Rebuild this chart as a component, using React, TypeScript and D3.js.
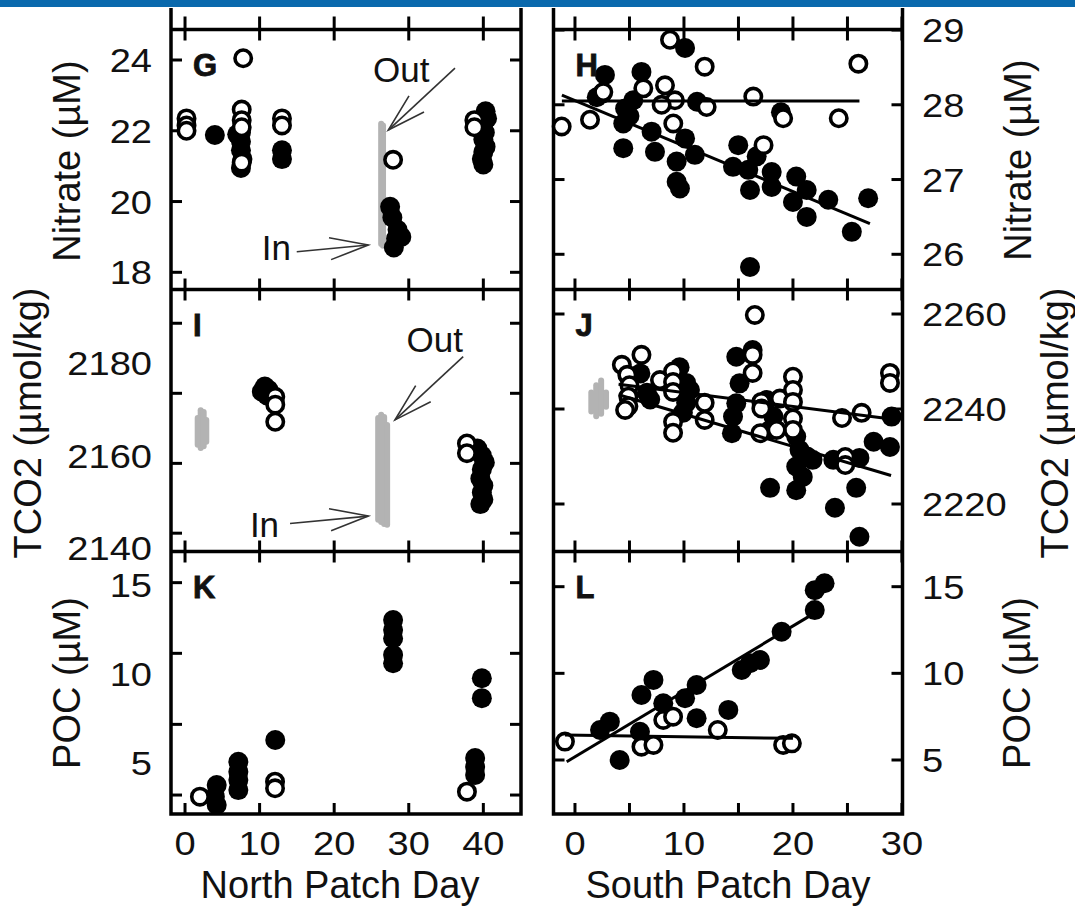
import * as d3 from 'd3';

const FONT = '"Liberation Sans", Arial, Helvetica, sans-serif';

// ---------- axis ticks / labels ----------
const northDayTicks = [0, 10, 20, 30, 40];
const southDayTicks = [0, 5, 10, 15, 20, 25, 30];
const southDayLabels = [0, 10, 20, 30];

const nitrateNorthTicks = [18, 20, 22, 24];
const nitrateSouthTicks = [26, 27, 28, 29];
const tco2NorthTickMarks = [2143.2, 2158.3, 2173.45, 2188.6];
const tco2NorthLabels = [2140, 2160, 2180];
const tco2SouthTicks = [2220, 2240, 2260];
const pocNorthTickMarks = [3.2, 7.17, 11.16, 15.13];
const pocNorthLabels = [5, 10, 15];
const pocSouthTicks = [5, 10, 15];

type Pt = [number, number];
type Strip = [number, number, number]; // day, low, high
type Seg = [number, number, number, number]; // day0, v0, day1, v1

// ---------- G: north nitrate ----------
const nitrateNorthIn: Pt[] = [
  [4.0, 21.88], [7.0, 21.9], [7.5, 21.95], [7.5, 21.7], [7.5, 21.45], [7.7, 21.2], [7.5, 20.95],
  [13.0, 21.45], [13.0, 21.2],
  [27.5, 19.85], [27.8, 19.55], [28.5, 19.2], [29.0, 19.0], [28.3, 18.95], [28.0, 18.7],
  [40.3, 22.55], [40.5, 22.35], [40.0, 22.2], [40.2, 21.95], [40.0, 21.75], [40.3, 21.55],
  [40.0, 21.4], [39.8, 21.2], [40.0, 21.05],
];
const nitrateNorthOut: Pt[] = [
  [0.2, 22.35], [0.2, 22.15], [0.2, 22.0], [7.8, 24.05], [7.6, 22.6], [7.6, 22.3], [7.6, 22.1],
  [7.6, 21.1], [13.0, 22.35], [13.0, 22.15], [27.9, 21.18], [38.8, 22.3], [38.8, 22.1],
];
const nitrateNorthUnderway: Strip[] = [[26.3, 18.8, 22.2], [26.55, 18.75, 22.15]];

// ---------- H: south nitrate ----------
const nitrateSouthIn: Pt[] = [
  [10.1, 28.76], [2.75, 28.4], [6.1, 28.44], [2.0, 28.1], [2.5, 28.15], [5.35, 28.06], [4.6, 27.95],
  [5.0, 27.85], [4.43, 27.75], [4.43, 27.42], [7.03, 27.64], [7.34, 27.37], [11.2, 28.04],
  [10.1, 27.55], [11.0, 27.33], [9.33, 27.24], [9.33, 26.97], [9.63, 26.88], [14.98, 27.46],
  [14.5, 27.17], [15.9, 27.13], [16.67, 27.31], [18.05, 27.1], [16.06, 26.86], [18.05, 26.9],
  [20.3, 27.04], [21.26, 26.86], [20.0, 26.7], [21.26, 26.5], [23.24, 26.73], [26.9, 26.75],
  [25.4, 26.3], [16.06, 25.83], [18.9, 27.9],
];
const nitrateSouthOut: Pt[] = [
  [8.72, 28.87], [11.9, 28.51], [26.0, 28.55], [2.6, 28.17], [6.27, 28.22], [8.26, 28.26],
  [9.17, 28.06], [7.95, 28.0], [12.08, 27.97], [16.36, 28.11], [-1.22, 27.71], [1.38, 27.8],
  [9.02, 27.75], [19.1, 27.82], [24.2, 27.82], [17.3, 27.46],
];
const nitrateSouthFits: Seg[] = [[-1.2, 28.05, 26.1, 28.05], [-1.2, 28.13, 27.06, 26.41]];

// ---------- I: north TCO2 ----------
const tco2NorthIn: Pt[] = [
  [10.7, 2174.9], [10.3, 2173.8], [11.2, 2174.2], [11.0, 2173.0],
  [39.2, 2161.5], [39.8, 2160.0], [40.2, 2158.5], [39.8, 2157.0], [39.6, 2155.0],
  [40.0, 2153.5], [39.8, 2152.0], [40.0, 2150.5], [39.6, 2149.5],
];
const tco2NorthOut: Pt[] = [
  [12.1, 2172.7], [12.1, 2171.0], [12.1, 2167.3], [37.8, 2162.6], [37.8, 2160.5],
];
const tco2NorthUnderway: Strip[] = [
  [1.7, 2162.3, 2168.1], [2.1, 2161.6, 2169.8], [2.5, 2162.0, 2169.4], [2.85, 2163.0, 2167.7],
  [25.9, 2146.1, 2168.1], [26.3, 2145.6, 2168.8], [26.7, 2145.2, 2168.3], [27.1, 2145.0, 2166.6],
];

// ---------- J: south TCO2 ----------
const tco2SouthIn: Pt[] = [
  [14.8, 2251.0], [16.3, 2252.4], [15.1, 2245.4], [14.8, 2241.2], [14.5, 2238.4], [14.4, 2234.9],
  [6.6, 2243.4], [6.9, 2242.0], [9.6, 2248.8], [10.2, 2245.5], [10.2, 2241.3], [9.9, 2239.2],
  [6.0, 2247.5], [10.55, 2244.0],
  [17.6, 2241.9], [18.2, 2238.4], [17.9, 2235.6],
  [20.3, 2234.2], [20.6, 2231.4], [21.3, 2230.0], [20.3, 2227.9], [20.9, 2225.7], [20.3, 2222.9],
  [21.8, 2229.3], [23.7, 2229.3], [17.9, 2223.4], [25.8, 2223.4], [23.85, 2219.2], [26.1, 2213.1],
  [27.4, 2233.1], [28.9, 2232.0], [29.05, 2238.4], [26.1, 2229.7],
];
const tco2SouthOut: Pt[] = [
  [16.5, 2259.8], [6.1, 2251.4], [4.3, 2249.3], [4.8, 2247.2], [5.0, 2245.0], [4.9, 2242.6],
  [4.9, 2240.6], [4.6, 2239.8], [16.3, 2251.4], [16.3, 2247.6],
  [7.8, 2246.1], [9.0, 2247.9], [9.0, 2245.7], [9.0, 2243.6], [9.0, 2237.3], [9.0, 2235.0],
  [11.9, 2241.3], [11.9, 2237.7], [17.1, 2241.5], [17.1, 2240.1],
  [18.8, 2242.2], [20.0, 2246.8], [20.0, 2244.0], [20.0, 2241.5], [20.0, 2238.0], [20.0, 2235.6],
  [17.0, 2234.9], [18.5, 2235.6], [24.5, 2238.1], [26.3, 2239.2], [24.8, 2229.9], [24.8, 2228.2],
  [28.9, 2247.6], [28.9, 2245.5],
];
const tco2SouthUnderway: Strip[] = [
  [1.5, 2239.5, 2243.5], [1.95, 2238.5, 2245.0], [2.4, 2239.0, 2246.0], [2.85, 2240.5, 2243.5],
];
const tco2SouthFits: Seg[] = [[4, 2245.2, 29, 2237.9], [4, 2243.0, 29, 2226.0]];

// ---------- K: north POC ----------
const pocNorthIn: Pt[] = [
  [27.9, 13.03], [27.9, 12.47], [27.9, 12.0], [27.9, 11.07], [27.9, 10.6], [39.8, 9.76], [39.8, 8.64],
  [38.9, 5.28], [38.9, 4.78], [38.9, 4.33], [12.1, 6.29], [7.15, 5.07], [7.15, 4.51], [7.15, 4.04],
  [7.15, 3.48], [4.25, 3.76], [4.0, 3.11], [4.25, 2.64],
];
const pocNorthOut: Pt[] = [[2.0, 3.11], [12.07, 3.95], [12.07, 3.58], [37.8, 3.39]];

// ---------- L: south POC ----------
const pocSouthIn: Pt[] = [
  [22.9, 15.2], [22.0, 14.8], [22.0, 13.65], [18.96, 12.4], [16.97, 10.77], [16.06, 10.58],
  [15.3, 10.19], [11.16, 9.33], [10.1, 8.56], [7.2, 9.62], [6.1, 8.75], [8.1, 8.27], [14.07, 7.89],
  [11.16, 7.41], [3.2, 7.21], [2.3, 6.73], [5.96, 6.63], [4.1, 5.0],
];
const pocSouthOut: Pt[] = [
  [-0.92, 6.06], [6.1, 5.77], [7.2, 5.87], [8.1, 7.31], [9.0, 7.5], [13.1, 6.73], [19.1, 5.87], [19.9, 5.96],
];
const pocSouthFits: Seg[] = [[-0.76, 4.9, 22.2, 13.56], [-0.92, 6.44, 20.0, 6.25]];

// annotation arrows (day, value) -> (day, value) tip
const nitrateNorthArrows: Seg[] = [[36.2, 23.77, 27.26, 22.02], [14.98, 18.58, 24.58, 18.77]];
const tco2NorthArrows: Seg[] = [[37.3, 2181.4, 28.16, 2167.7], [14.08, 2145.3, 24.58, 2146.9]];

// ---------- layout ----------
const cols = {
  left: { x0: 171, x1: 521, domain: [-1.88, 45.05] },
  right: { x0: 553.5, x1: 902.5, domain: [-1.97, 30.05] },
};
const rows = [
  { top: 29.5, bottom: 289.5 },
  { top: 289.5, bottom: 551.5 },
  { top: 551.5, bottom: 814 },
];
const FRAME_TOP = 8;
const TICK = 11;

const northX = d3.scaleLinear().domain(cols.left.domain).range([cols.left.x0, cols.left.x1]);
const southX = d3.scaleLinear().domain(cols.right.domain).range([cols.right.x0, cols.right.x1]);

type Panel = {
  letter: string;
  side: 'left' | 'right';
  row: number;
  domain: [number, number];
  tickMarks: number[];
  labels: number[];
  filled: Pt[];
  open: Pt[];
  fits?: Seg[];
  underway?: Strip[];
  arrows?: Seg[];
  notes?: { text: string; day: number; value: number }[];
};

const panels: Panel[] = [
  {
    letter: 'G', side: 'left', row: 0, domain: [17.514, 24.862],
    tickMarks: nitrateNorthTicks, labels: nitrateNorthTicks,
    filled: nitrateNorthIn, open: nitrateNorthOut, underway: nitrateNorthUnderway,
    arrows: nitrateNorthArrows,
    notes: [{ text: 'Out', day: 25.2, value: 23.38 }, { text: 'In', day: 10.3, value: 18.35 }],
  },
  {
    letter: 'H', side: 'right', row: 0, domain: [25.529, 29.007],
    tickMarks: nitrateSouthTicks, labels: nitrateSouthTicks,
    filled: nitrateSouthIn, open: nitrateSouthOut, fits: nitrateSouthFits,
  },
  {
    letter: 'I', side: 'left', row: 1, domain: [2139.24, 2195.9],
    tickMarks: tco2NorthTickMarks, labels: tco2NorthLabels,
    filled: tco2NorthIn, open: tco2NorthOut, underway: tco2NorthUnderway,
    arrows: tco2NorthArrows,
    notes: [{ text: 'Out', day: 29.7, value: 2182.4 }, { text: 'In', day: 8.7, value: 2142.4 }],
  },
  {
    letter: 'J', side: 'right', row: 1, domain: [2210, 2265.16],
    tickMarks: tco2SouthTicks, labels: tco2SouthTicks,
    filled: tco2SouthIn, open: tco2SouthOut, fits: tco2SouthFits, underway: tco2SouthUnderway,
  },
  {
    letter: 'K', side: 'left', row: 2, domain: [2.135, 16.88],
    tickMarks: pocNorthTickMarks, labels: pocNorthLabels,
    filled: pocNorthIn, open: pocNorthOut,
  },
  {
    letter: 'L', side: 'right', row: 2, domain: [1.884, 17.03],
    tickMarks: pocSouthTicks, labels: pocSouthTicks,
    filled: pocSouthIn, open: pocSouthOut, fits: pocSouthFits,
  },
];

const yTitles = [
  { text: 'Nitrate (µM)', x: 80, y: 161 },
  { text: 'TCO2 (µmol/kg)', x: 41, y: 423 },
  { text: 'POC (µM)', x: 80, y: 683 },
  { text: 'Nitrate (µM)', x: 1031, y: 160 },
  { text: 'TCO2 (µmol/kg)', x: 1068, y: 423 },
  { text: 'POC (µM)', x: 1030, y: 683 },
];

function Num({ x, y, anchor, children }: { x: number; y: number; anchor: string; children: any }) {
  return (
    <text
      transform={`translate(${x},${y}) scale(1.12,1)`}
      textAnchor={anchor}
      fontSize={34}
      fontFamily={FONT}
      fill="#111"
    >
      {children}
    </text>
  );
}

function arrowHead(x0: number, y0: number, x1: number, y1: number) {
  const ang = Math.atan2(y0 - y1, x0 - x1);
  const len = 40;
  const spread = (16 * Math.PI) / 180;
  const a = [x1 + len * Math.cos(ang - spread), y1 + len * Math.sin(ang - spread)];
  const b = [x1 + len * Math.cos(ang + spread), y1 + len * Math.sin(ang + spread)];
  return `M${a[0]},${a[1]}L${x1},${y1}L${b[0]},${b[1]}`;
}

function PanelView({ p }: { p: Panel }) {
  const x = p.side === 'left' ? northX : southX;
  const col = cols[p.side];
  const r = rows[p.row];
  const y = d3.scaleLinear().domain(p.domain).range([r.bottom, r.top]);
  const dayTicks = p.side === 'left' ? northDayTicks : southDayTicks;
  const line = d3.line<Pt>().x((d) => x(d[0])).y((d) => y(d[1]));

  return (
    <g>
      {/* inward ticks on all four sides */}
      {p.tickMarks.map((t) => (
        <g key={`yt${t}`} stroke="#000" strokeWidth={3}>
          <line x1={col.x0} x2={col.x0 + TICK} y1={y(t)} y2={y(t)} />
          <line x1={col.x1} x2={col.x1 - TICK} y1={y(t)} y2={y(t)} />
        </g>
      ))}
      {dayTicks.map((t) => (
        <g key={`xt${t}`} stroke="#000" strokeWidth={3}>
          <line x1={x(t)} x2={x(t)} y1={r.top} y2={r.top + TICK} />
          <line x1={x(t)} x2={x(t)} y1={r.bottom} y2={r.bottom - TICK} />
        </g>
      ))}

      {/* tick labels */}
      {p.labels.map((t) => (
        <Num
          key={`yl${t}`}
          x={p.side === 'left' ? 152 : 922}
          y={y(t) + 12}
          anchor={p.side === 'left' ? 'end' : 'start'}
        >
          {t}
        </Num>
      ))}

      {/* underway (gray) data */}
      {(p.underway || []).map((s, i) => (
        <line
          key={`u${i}`}
          x1={x(s[0])}
          x2={x(s[0])}
          y1={y(s[1])}
          y2={y(s[2])}
          stroke="#b3b3b3"
          strokeWidth={6}
          strokeLinecap="round"
        />
      ))}

      {p.filled.map((d, i) => (
        <circle key={`f${i}`} cx={x(d[0])} cy={y(d[1])} r={10} fill="#000" />
      ))}
      {p.open.map((d, i) => (
        <circle key={`o${i}`} cx={x(d[0])} cy={y(d[1])} r={8.2} fill="#fff" stroke="#000" strokeWidth={3.6} />
      ))}

      {(p.fits || []).map((s, i) => (
        <path
          key={`fit${i}`}
          d={line([[s[0], s[1]], [s[2], s[3]]]) || ''}
          stroke="#000"
          strokeWidth={3}
          fill="none"
        />
      ))}

      {(p.arrows || []).map((s, i) => {
        const x0 = x(s[0]), y0 = y(s[1]), x1 = x(s[2]), y1 = y(s[3]);
        return (
          <g key={`a${i}`} stroke="#333" strokeWidth={1.6} fill="none">
            <line x1={x0} y1={y0} x2={x1} y2={y1} />
            <path d={arrowHead(x0, y0, x1, y1)} />
          </g>
        );
      })}
      {(p.notes || []).map((n) => (
        <text key={n.text} x={x(n.day)} y={y(n.value)} fontSize={35} fontFamily={FONT} fill="#111">
          {n.text}
        </text>
      ))}

      <text
        x={col.x0 + 22}
        y={r.top + 46}
        fontSize={31}
        fontWeight="bold"
        fontFamily={FONT}
        fill="#111"
        stroke="#111"
        strokeWidth={0.8}
      >
        {p.letter}
      </text>
    </g>
  );
}

export default function App() {
  const width = 1075;
  const height = 917;
  return (
    <svg
      width={width}
      height={height}
      viewBox={`0 0 ${width} ${height}`}
      style={{ position: 'absolute', left: 0, top: 0, background: '#fff' }}
    >
      <rect x={0} y={0} width={width} height={height} fill="#fff" />
      <rect x={0} y={0} width={width} height={7} fill="#0a69ad" />

      {/* frames */}
      {(['left', 'right'] as const).map((side) => {
        const col = cols[side];
        const x = side === 'left' ? northX : southX;
        const dayTicks = side === 'left' ? northDayTicks : southDayTicks;
        return (
          <g key={side}>
            <path
              d={`M${col.x0},${FRAME_TOP}V${rows[2].bottom}H${col.x1}V${FRAME_TOP}`}
              stroke="#000"
              strokeWidth={3.5}
              fill="none"
            />
            {rows.map((r) => (
              <line key={r.top} x1={col.x0} x2={col.x1} y1={r.top} y2={r.top} stroke="#000" strokeWidth={3.5} />
            ))}
            {/* ticks of the panel cut off above */}
            {dayTicks.map((t) => (
              <line key={t} x1={x(t)} x2={x(t)} y1={rows[0].top} y2={rows[0].top - TICK - 2} stroke="#000" strokeWidth={3} />
            ))}
          </g>
        );
      })}

      {panels.map((p) => (
        <PanelView key={p.letter} p={p} />
      ))}

      {/* day axis labels */}
      {northDayTicks.map((t) => (
        <Num key={`n${t}`} x={northX(t)} y={855} anchor="middle">
          {t}
        </Num>
      ))}
      {southDayLabels.map((t) => (
        <Num key={`s${t}`} x={southX(t)} y={855} anchor="middle">
          {t}
        </Num>
      ))}
      <text x={340} y={898} textAnchor="middle" fontSize={38} fontFamily={FONT} fill="#111">
        North Patch Day
      </text>
      <text x={728} y={898} textAnchor="middle" fontSize={38} fontFamily={FONT} fill="#111">
        South Patch Day
      </text>

      {yTitles.map((t, i) => (
        <text
          key={i}
          transform={`translate(${t.x},${t.y}) rotate(-90)`}
          textAnchor="middle"
          fontSize={38}
          fontFamily={FONT}
          fill="#111"
        >
          {t.text}
        </text>
      ))}
    </svg>
  );
}
